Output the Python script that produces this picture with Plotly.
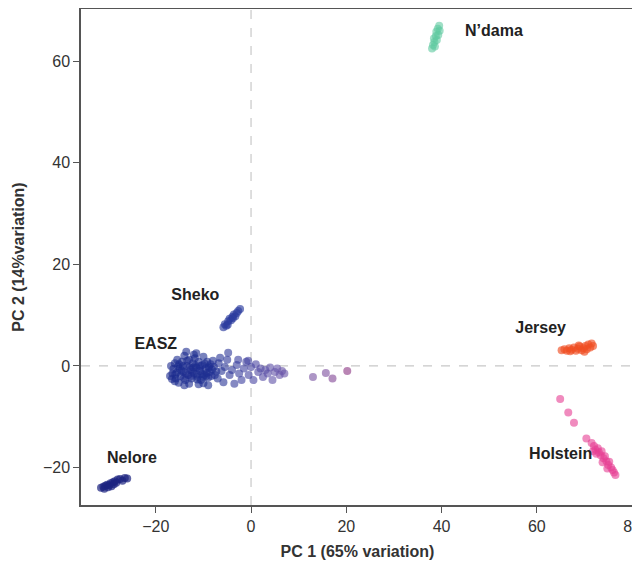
import plotly.graph_objects as go

# ---------------- data ----------------
easz_x = [-16.5, -16.0, -15.8, -15.5, -15.0, -14.8, -14.5, -14.2, -14.0, -13.8, -13.5, -13.2, -13.0, -12.7,
          -12.5, -12.2, -12.0, -11.8, -11.5, -11.2, -11.0, -10.7, -10.5, -10.2, -10.0, -9.8, -9.5, -9.2,
          -9.0, -8.7, -8.5, -8.2, -8.0, -7.6, -16.8, -17.0, -15.2, -13.0, -12.0, -14.0, -11.0, -9.0,
          -10.0, -16.0, -13.6, -11.5, -7.0, -6.8, -6.5, -6.2, -5.8, -5.5,
          -16.3, -15.6, -15.1, -14.6, -14.1, -13.4, -12.9, -12.3, -11.7, -11.3, -10.8, -10.3, -9.7,
          -9.3, -8.8, -16.6, -15.9, -15.3, -14.3, -13.7, -12.6, -12.1, -11.4, -10.6, -10.1, -9.4,
          -8.9, -8.3, -7.8, -7.3,
          -5.0, -4.5, -4.0, -3.5, -3.0, -2.5, -2.0, -1.5, -1.0, -0.5, 0.0, 0.5, 1.0, 1.5, 2.0, 2.5,
          3.0, 3.5, 4.0, 4.5, 5.0, 5.5, 6.0, 6.5, 7.0, -2.7, -0.6, -4.8,
          13.0, 15.7, 17.1, 20.2]
easz_y = [-1.5, 0.5, -2.5, 1.2, -0.5, -2.0, 0.8, -1.2, 2.0, -2.8, 0.0, -1.8, 1.2, -0.8,
          -2.5, 0.5, -1.5, 1.5, -0.3, -2.2, 0.8, -1.0, -2.8, 0.2, 1.8, -1.8, -0.5, 0.8,
          -2.3, -1.2, 0.3, -0.7, 1.0, -1.8, 0.0, -2.0, -3.3, -3.5, 2.2, -3.8, -3.6, -3.8,
          -3.4, -3.0, 2.8, 2.5, -2.5, 0.5, 1.6, -1.0, -3.2, -0.2,
          -0.6, -1.3, 0.3, -0.9, -2.4, 1.0, -0.3, -1.1, 0.1, -2.7, -0.6, -1.6, 0.4,
          -1.4, -0.1, -2.6, -1.7, -0.1, 0.0, -1.5, -2.0, -0.3, -1.7, 0.0, -2.1, -2.0,
          -0.4, -2.0, -0.2, -1.1,
          1.2, -1.8, -0.8, -3.5, 0.2, -1.5, -2.8, -0.5, 0.8, -1.8, -0.2, -2.8, 0.3, -1.2, -0.5, -2.2,
          -0.8, -1.5, -0.3, -2.8, -1.2, -0.5, -1.8, -1.0, -1.5, 1.2, 1.0, 2.6,
          -2.2, -1.4, -2.5, -1.0]

sheko_x = [-5.8, -5.5, -5.2, -4.8, -4.5, -4.2, -3.9, -3.6, -3.3, -3.0, -2.7, -2.3, -4.9, -3.8]
sheko_y = [7.6, 8.2, 7.9, 8.8, 9.3, 9.0, 9.7, 10.1, 9.8, 10.4, 10.8, 11.2, 8.1, 9.4]

nelore_x = [-31.5, -31.0, -30.6, -30.2, -29.8, -29.5, -29.0, -28.6, -28.3, -28.0, -27.5, -27.0,
            -26.5, -26.0, -30.8, -29.3, -30.0, -28.8]
nelore_y = [-24.0, -23.8, -23.6, -23.4, -23.5, -23.1, -22.9, -22.7, -23.0, -22.4, -22.3, -22.6,
            -22.1, -22.2, -24.2, -23.7, -23.9, -23.3]

jersey_x = [65.2, 65.8, 66.3, 66.8, 67.3, 67.8, 68.2, 68.6, 69.0, 69.4, 69.8, 70.2, 70.5, 70.8,
            71.2, 71.5, 71.8, 70.0, 68.8, 67.0]
jersey_y = [3.1, 3.3, 3.0, 3.5, 3.2, 3.6, 3.0, 3.4, 3.8, 3.1, 3.5, 3.9, 3.3, 4.2,
            3.6, 4.4, 3.9, 2.8, 4.0, 2.9]

holstein_x = [64.9, 66.6, 67.8, 70.4, 71.5, 72.0, 72.3, 72.8, 73.0, 73.4, 73.6, 74.0, 74.3, 74.6,
              75.0, 75.2, 75.6, 75.9, 76.2, 76.5, 72.5, 73.8, 74.8, 71.8]
holstein_y = [-6.5, -9.2, -11.2, -14.3, -15.2, -15.8, -16.5, -16.2, -17.0, -17.6, -16.8, -18.2, -17.8,
              -18.8, -19.5, -18.9, -20.0, -20.5, -21.0, -21.5, -17.3, -19.0, -20.2, -16.8]

ndama_x = [38.0, 38.2, 38.5, 38.4, 38.8, 38.9, 39.2, 39.5, 39.6, 39.0, 38.6, 39.3]
ndama_y = [62.5, 63.2, 63.8, 64.5, 65.0, 65.8, 66.4, 67.0, 66.0, 64.2, 62.9, 65.2]

label_text = ["N\u2019dama", "Jersey", "Holstein", "Sheko", "EASZ", "Nelore"]
label_x = [51.0, 60.8, 65.0, -11.7, -20.0, -25.0]
label_y = [65.7, 7.3, -17.6, 13.7, 4.1, -18.4]

x_ticks = [-20, 0, 20, 40, 60, 80]
y_ticks = [-20, 0, 20, 40, 60]

# ---------------- figure ----------------
fig = go.Figure()

msize = 8
fig.add_trace(go.Scatter(x=easz_x, y=easz_y, mode="markers",
                         marker=dict(size=msize, color=easz_x, cmin=-17, cmax=21,
                                     colorscale=[[0, "#1a2a8e"], [0.25, "#1f2f92"], [0.4, "#3c3f9e"],
                                                 [0.6, "#6553a8"], [0.85, "#7b4f9e"], [1, "#8e2f7e"]],
                                     opacity=0.6, line=dict(width=0))))
fig.add_trace(go.Scatter(x=sheko_x, y=sheko_y, mode="markers",
                         marker=dict(size=msize, color="#2b3c9e", opacity=0.65, line=dict(width=0))))
fig.add_trace(go.Scatter(x=nelore_x, y=nelore_y, mode="markers",
                         marker=dict(size=msize, color="#1c2380", opacity=0.7, line=dict(width=0))))
fig.add_trace(go.Scatter(x=jersey_x, y=jersey_y, mode="markers",
                         marker=dict(size=msize, color="#f04e23", opacity=0.65, line=dict(width=0))))
fig.add_trace(go.Scatter(x=holstein_x, y=holstein_y, mode="markers",
                         marker=dict(size=msize, color="#e63d93", opacity=0.6, line=dict(width=0))))
fig.add_trace(go.Scatter(x=ndama_x, y=ndama_y, mode="markers",
                         marker=dict(size=msize, color="#5fc9a0", opacity=0.6, line=dict(width=0))))

fig.add_trace(go.Scatter(x=label_x, y=label_y, mode="text", text=label_text,
                         textfont=dict(family="Liberation Sans, Arial, sans-serif", size=16,
                                       color="#222222", weight="bold")))

# dashed reference lines at zero
fig.add_shape(type="line", xref="x", yref="paper", x0=0, x1=0, y0=0, y1=1,
              line=dict(color="#c8c8c8", width=1.2, dash="dash"), layer="below")
fig.add_shape(type="line", xref="paper", yref="y", x0=0, x1=1, y0=0, y1=0,
              line=dict(color="#c8c8c8", width=1.2, dash="dash"), layer="below")

axis_common = dict(showgrid=False, zeroline=False, showline=True, mirror=True,
                   linecolor="#555555", linewidth=1.5, ticks="outside", ticklen=6,
                   tickcolor="#555555", tickwidth=1.2, automargin=False,
                   ticklabeloverflow="allow",
                   tickfont=dict(family="Liberation Sans, Arial, sans-serif", size=16, color="#333333"))

title_font = dict(family="Liberation Sans, Arial, sans-serif", size=16, color="#333333", weight="bold")

# the page body adds an ~8px offset, so the figure is shrunk to fit the window exactly
fig.update_layout(
    width=632, height=563,
    margin=dict(l=73, r=6, t=1, b=66),
    paper_bgcolor="white", plot_bgcolor="white",
    showlegend=False,
    xaxis=dict(range=[-35.7, 80.4], tickvals=x_ticks,
               title=dict(text="PC 1 (65% variation)", standoff=12, font=title_font),
               **axis_common),
    yaxis=dict(range=[-27.4, 70.3], tickvals=y_ticks,
               title=dict(text="PC 2 (14%variation)", standoff=14, font=title_font),
               **axis_common),
)

fig.write_html("out.html")
